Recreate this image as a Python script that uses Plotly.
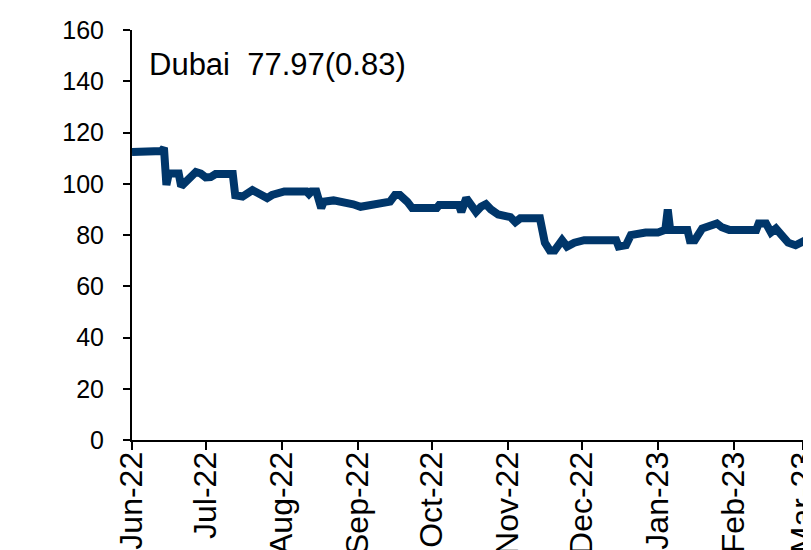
import plotly.graph_objects as go

dates = [
    "2022-06-01", "2022-06-13", "2022-06-14", "2022-06-15", "2022-06-16", "2022-06-20",
    "2022-06-21", "2022-06-23", "2022-06-25", "2022-06-27", "2022-06-29", "2022-07-01",
    "2022-07-03", "2022-07-05", "2022-07-12", "2022-07-13", "2022-07-16", "2022-07-18",
    "2022-07-20", "2022-07-22", "2022-07-24", "2022-07-26", "2022-07-28", "2022-07-31",
    "2022-08-02", "2022-08-11", "2022-08-12", "2022-08-13", "2022-08-15", "2022-08-17",
    "2022-08-18", "2022-08-22", "2022-08-26", "2022-08-30", "2022-09-02", "2022-09-05",
    "2022-09-09", "2022-09-14", "2022-09-16", "2022-09-18", "2022-09-21", "2022-09-23",
    "2022-10-03", "2022-10-04", "2022-10-12", "2022-10-13", "2022-10-15", "2022-10-17",
    "2022-10-19", "2022-10-21", "2022-10-23", "2022-10-25", "2022-10-28", "2022-11-02",
    "2022-11-04", "2022-11-06", "2022-11-14", "2022-11-16", "2022-11-18", "2022-11-20",
    "2022-11-23", "2022-11-25", "2022-11-28", "2022-12-02", "2022-12-15", "2022-12-16",
    "2022-12-19", "2022-12-21", "2022-12-27", "2023-01-01", "2023-01-03", "2023-01-04",
    "2023-01-05", "2023-01-06", "2023-01-13", "2023-01-14", "2023-01-16", "2023-01-19",
    "2023-01-22", "2023-01-25", "2023-01-27", "2023-01-30", "2023-02-10", "2023-02-11",
    "2023-02-14", "2023-02-16", "2023-02-18", "2023-02-20", "2023-02-23", "2023-02-26",
    "2023-03-01", "2023-03-02",
]
dubai = [
    112.4, 112.8, 114.0, 99.5, 104.0, 104.0,
    99.0, 101.0, 102.0, 104.6, 104.0, 102.5,
    102.6, 103.8, 103.8, 95.5, 95.0, 96.0,
    97.5, 96.5, 95.6, 94.4, 95.6, 96.5,
    97.0, 97.0, 96.0, 97.0, 97.0, 90.5,
    93.0, 93.5, 93.0, 92.0, 91.0, 91.5,
    92.5, 93.0, 95.6, 95.6, 93.0, 90.5,
    90.5, 91.7, 91.7, 89.0, 94.4, 91.7,
    89.0, 91.0, 92.0, 90.0, 88.0, 87.0,
    85.0, 86.5, 86.5, 77.0, 74.0, 74.0,
    78.0, 75.5, 77.0, 78.0, 78.0, 75.5,
    76.0, 80.0, 81.0, 81.0, 82.0, 82.0,
    90.0, 82.0, 82.0, 78.0, 78.0, 82.5,
    83.5, 84.5, 83.0, 82.0, 82.0, 84.5,
    84.5, 81.0, 82.5, 80.0, 77.0, 76.0,
    78.0, 77.97,
]
label_text = "Dubai&nbsp; 77.97(0.83)"
y_ticks = [0, 20, 40, 60, 80, 100, 120, 140, 160]

fig = go.Figure()
fig.add_trace(go.Scatter(
    x=dates, y=dubai, mode="lines",
    line=dict(color="#00366A", width=8),
    showlegend=False, hoverinfo="skip", cliponaxis=False,
))

fig.update_layout(
    width=803, height=542,
    margin=dict(l=124, r=0, t=22, b=110, autoexpand=False),
    paper_bgcolor="white", plot_bgcolor="white",
    font=dict(family="Liberation Sans, Arial, sans-serif", color="black"),
    showlegend=False,
)
fig.update_xaxes(
    type="date", automargin=False,
    range=["2022-06-01", "2023-03-04 07:00"],
    tick0="2022-06-01", dtick="M1", tickformat="%b-%y",
    tickangle=-90, tickfont=dict(size=32, color="black"),
    ticks="outside", ticklen=8, tickwidth=2, tickcolor="black",
    ticklabelstandoff=-11, ticklabeloverflow="allow",
    showline=True, linecolor="black", linewidth=2,
    showgrid=False, zeroline=False,
)
fig.update_yaxes(
    range=[0, 160], tickvals=y_ticks, automargin=False,
    tickfont=dict(size=25, color="black"),
    ticks="outside", ticklen=7, tickwidth=2, tickcolor="black",
    ticklabelstandoff=14,
    showline=True, linecolor="black", linewidth=2,
    showgrid=False, zeroline=False,
)
fig.add_annotation(
    xref="paper", yref="paper", x=0.022, y=0.915,
    xanchor="left", yanchor="middle", showarrow=False,
    text=label_text, font=dict(size=31, color="black"),
)

fig.write_html("out.html")
